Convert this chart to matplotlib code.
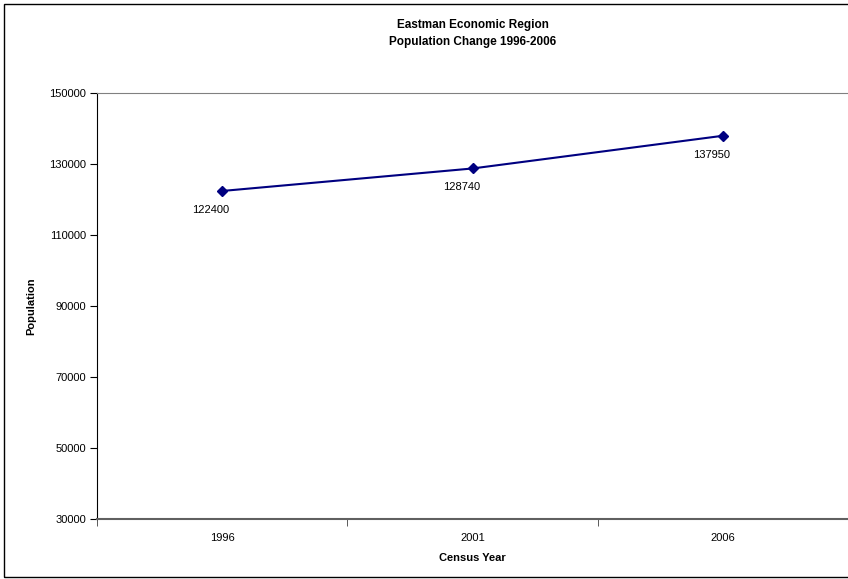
import matplotlib.pyplot as plt
from matplotlib.patches import Rectangle

plt.rcParams['font.family'] = ['Liberation Sans', 'DejaVu Sans']

# Data
years = ['1996', '2001', '2006']
population = [122400, 128740, 137950]
y_ticks = [30000, 50000, 70000, 90000, 110000, 130000, 150000]

W, H = 848, 579
fig = plt.figure(figsize=(W / 100, H / 100), dpi=100)

# outer chart frame (right side runs off the image)
fig.patches.append(Rectangle((4 / W, 2 / H), 2.0, (575 - 2) / H, transform=fig.transFigure,
                             fill=False, edgecolor='black', linewidth=1.0))

ax = fig.add_axes([97 / W, (H - 519) / H, 751 / W, 426 / H])

x = list(range(len(years)))
ax.plot(x, population, color='#000080', linewidth=1.5, marker='D', markersize=5.5,
        markerfacecolor='#000080', markeredgecolor='#000080')

for xi, val in zip(x, population):
    ax.annotate(str(val), (xi, val), xytext=(-8, -10), textcoords='offset points',
                ha='center', va='top', fontsize=8)

ax.set_xlim(-0.5, 2.5)
ax.set_ylim(30000, 150000)
ax.set_yticks(y_ticks)
ax.set_yticklabels([str(t) for t in y_ticks], fontsize=8)

ax.set_xticks(x)
ax.set_xticklabels(years, fontsize=8)
ax.set_xticks([-0.5, 0.5, 1.5, 2.5], minor=True)
ax.tick_params(axis='x', which='major', length=0, pad=10)
ax.tick_params(axis='x', which='minor', length=5, direction='out', color='#404040')
ax.tick_params(axis='y', length=5, direction='out', color='black', pad=3)

ax.spines['right'].set_visible(False)
ax.spines['top'].set_color('#808080')
ax.spines['bottom'].set_color('#606060')
ax.spines['bottom'].set_linewidth(1.5)
ax.spines['left'].set_color('black')

ax.set_xlabel('Census Year', fontsize=8, fontweight='bold', labelpad=7)
ax.set_ylabel('Population', fontsize=8, fontweight='bold', labelpad=9)

fig.text(473 / W, 1 - 25 / H, 'Eastman Economic Region', ha='center', va='center',
         fontsize=8.5, fontweight='bold')
fig.text(473 / W, 1 - 42 / H, 'Population Change 1996-2006', ha='center', va='center',
         fontsize=8.5, fontweight='bold')

fig.savefig('out.png', dpi=100)
